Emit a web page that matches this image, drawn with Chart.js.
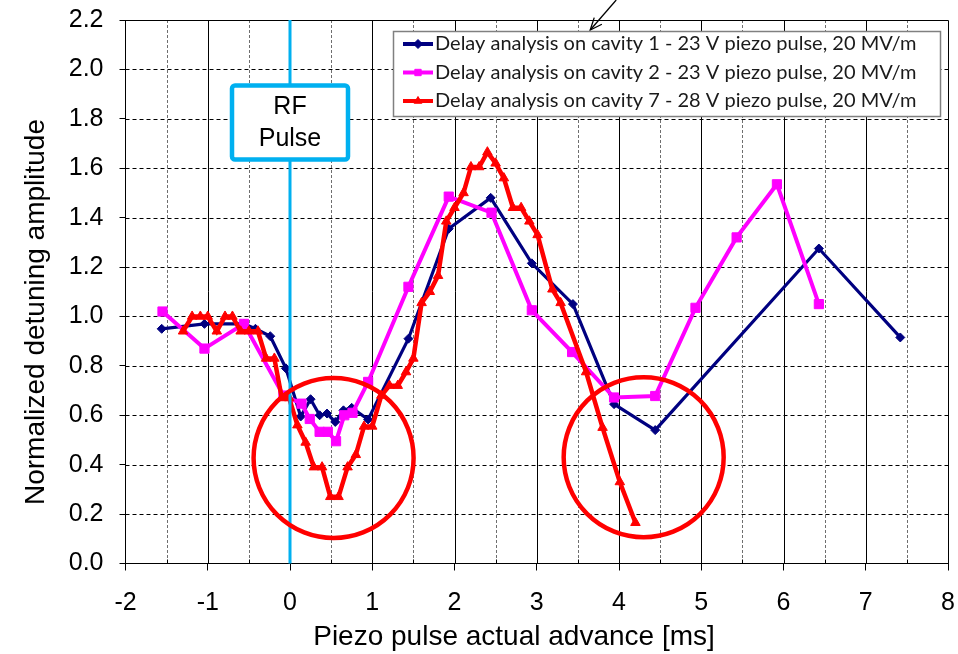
<!DOCTYPE html>
<html>
<head>
<meta charset="utf-8">
<script src="https://cdn.jsdelivr.net/npm/chart.js@4/dist/chart.umd.min.js"></script>
<style>
  html, body { margin: 0; padding: 0; background: #ffffff; }
  #wrap { width: 958px; height: 654px; }
</style>
</head>
<body>
<div id="wrap"><canvas id="c" width="958" height="654"></canvas></div>
<script>
// Cavity 1 – 23 V piezo pulse
const cav1X = [-1.56, -1.04, -0.56, -0.42, -0.24, -0.05, 0.13, 0.25, 0.36, 0.45, 0.55, 0.65, 0.75, 0.95,
               1.44, 1.93, 2.44, 2.94, 3.44, 3.94, 4.44, 6.43, 7.42];
const cav1Y = [0.95, 0.97, 0.97, 0.95, 0.92, 0.79, 0.595, 0.665, 0.60, 0.607, 0.573, 0.62, 0.63, 0.583,
               0.91, 1.355, 1.48, 1.215, 1.05, 0.645, 0.54, 1.275, 0.915];

// Cavity 2 – 23 V piezo pulse
const cav2X = [-1.55, -1.04, -0.56, -0.08, 0.14, 0.24, 0.36, 0.46, 0.56, 0.66, 0.76, 0.95,
               1.44, 1.93, 2.45, 2.94, 3.43, 3.94, 4.44, 4.93, 5.43, 5.92, 6.43];
const cav2Y = [1.02, 0.87, 0.97, 0.68, 0.647, 0.585, 0.533, 0.533, 0.495, 0.60, 0.61, 0.735,
               1.12, 1.485, 1.42, 1.025, 0.856, 0.672, 0.678, 1.035, 1.32, 1.535, 1.05];

// Cavity 7 – 28 V piezo pulse
const cav7X = [-1.30, -1.19, -1.09, -1.00, -0.89, -0.79, -0.70, -0.60, -0.50, -0.39,
               -0.29, -0.19, -0.10, -0.01, 0.09, 0.19, 0.29, 0.39, 0.49, 0.59,
               0.70, 0.80, 0.90, 1.00, 1.11, 1.21, 1.31, 1.41, 1.50, 1.60,
               1.70, 1.80, 1.90, 2.00, 2.11, 2.20, 2.30, 2.40, 2.50, 2.60,
               2.71, 2.81, 2.91, 3.01, 3.19, 3.29, 3.60, 3.80, 4.01, 4.20];
const cav7Y = [0.94, 1.00, 1.00, 1.00, 0.94, 1.00, 1.00, 0.94, 0.94, 0.94,
               0.83, 0.83, 0.67, 0.67, 0.56, 0.49, 0.39, 0.39, 0.27, 0.27,
               0.39, 0.44, 0.555, 0.555, 0.68, 0.72, 0.72, 0.775, 0.83, 1.055,
               1.10, 1.165, 1.385, 1.44, 1.50, 1.605, 1.605, 1.665, 1.62, 1.56,
               1.44, 1.44, 1.385, 1.33, 1.11, 1.055, 0.775, 0.55, 0.33, 0.165];

const seriesLabels = [
  'Delay analysis on cavity 1 - 23 V piezo pulse, 20 MV/m',
  'Delay analysis on cavity 2 - 23 V piezo pulse, 20 MV/m',
  'Delay analysis on cavity 7 - 28 V piezo pulse, 20 MV/m'
];
const seriesColors = ['#000080', '#ff00ff', '#ff0000'];
const seriesMarkers = ['rectRot', 'rect', 'triangle'];

const xRange = [-2, 8];
const yRange = [0, 2.2];
const xTitle = 'Piezo pulse actual advance [ms]';
const yTitle = 'Normalized detuning amplitude';
const rfLabel = ['RF', 'Pulse'];
const rfPulseAt = 0;            // ms
const rfBoxCenterY = 1.785;     // in detuning units
const circleCenters = [[0.53, 0.427], [4.30, 0.43]];

const toPoints = (xs, ys) => xs.map((x, i) => ({ x: x, y: ys[i] }));

// Plot-area grid: dashed horizontals, solid integer / dashed half verticals
const gridPlugin = {
  id: 'excelGrid',
  beforeDatasetsDraw(chart) {
    const { ctx, chartArea: a, scales: { x, y } } = chart;
    ctx.save();
    ctx.lineWidth = 1;
    ctx.strokeStyle = '#000';
    ctx.setLineDash([4, 3]);
    for (let k = 1; k < 11; k++) {
      const py = Math.round(y.getPixelForValue(k * 0.2)) + 0.5;
      ctx.beginPath(); ctx.moveTo(a.left, py); ctx.lineTo(a.right, py); ctx.stroke();
    }
    ctx.strokeStyle = '#6e6e6e';
    ctx.setLineDash([3, 2]);
    for (let v = xRange[0] + 0.5; v < xRange[1]; v += 1) {
      const px = Math.round(x.getPixelForValue(v)) + 0.5;
      ctx.beginPath(); ctx.moveTo(px, a.top); ctx.lineTo(px, a.bottom); ctx.stroke();
    }
    ctx.setLineDash([]);
    ctx.strokeStyle = '#000';
    for (let v = xRange[0] + 1; v < xRange[1]; v += 1) {
      const px = Math.round(x.getPixelForValue(v)) + 0.5;
      ctx.beginPath(); ctx.moveTo(px, a.top); ctx.lineTo(px, a.bottom); ctx.stroke();
    }
    // minor ticks at half steps, inside the axis
    for (let v = xRange[0] + 0.5; v < xRange[1]; v += 1) {
      const px = Math.round(x.getPixelForValue(v)) + 0.5;
      ctx.beginPath(); ctx.moveTo(px, a.bottom); ctx.lineTo(px, a.bottom - 4); ctx.stroke();
    }
    // top and right frame
    ctx.beginPath();
    ctx.moveTo(a.left, Math.round(a.top) + 0.5);
    ctx.lineTo(Math.round(a.right) + 0.5, Math.round(a.top) + 0.5);
    ctx.lineTo(Math.round(a.right) + 0.5, a.bottom);
    ctx.stroke();
    ctx.restore();
  }
};

// Annotations, axis titles and legend
const overlayPlugin = {
  id: 'overlay',
  afterDatasetsDraw(chart) {
    const { ctx, chartArea: a, scales: { x, y } } = chart;
    ctx.save();

    // RF pulse marker line
    const rx = x.getPixelForValue(rfPulseAt);
    ctx.strokeStyle = '#00b0f0';
    ctx.lineWidth = 3;
    ctx.beginPath(); ctx.moveTo(rx, a.top); ctx.lineTo(rx, a.bottom); ctx.stroke();

    // RF pulse label box
    const cy = y.getPixelForValue(rfBoxCenterY);
    const bw = 116, bh = 74;
    ctx.fillStyle = '#ffffff';
    ctx.lineWidth = 4.5;
    ctx.beginPath();
    if (ctx.roundRect) ctx.roundRect(rx - bw / 2, cy - bh / 2, bw, bh, 3);
    else ctx.rect(rx - bw / 2, cy - bh / 2, bw, bh);
    ctx.fill(); ctx.stroke();
    ctx.fillStyle = '#000';
    ctx.font = '25px "Liberation Sans", Arial, sans-serif';
    ctx.textAlign = 'center';
    ctx.textBaseline = 'middle';
    ctx.fillText(rfLabel[0], rx, cy - 15);
    ctx.fillText(rfLabel[1], rx, cy + 17);

    // highlight circles
    ctx.strokeStyle = '#ff0000';
    ctx.lineWidth = 4.5;
    circleCenters.forEach(([cxv, cyv]) => {
      ctx.beginPath();
      ctx.arc(x.getPixelForValue(cxv), y.getPixelForValue(cyv), 80, 0, Math.PI * 2);
      ctx.stroke();
    });

    // pointer arrow above the legend
    const tipX = x.getPixelForValue(3.65), tipY = a.top + 10;
    const tailX = tipX + 26, tailY = 0;
    ctx.strokeStyle = '#000';
    ctx.lineWidth = 1.3;
    ctx.beginPath(); ctx.moveTo(tailX, tailY); ctx.lineTo(tipX, tipY); ctx.stroke();
    const ang = Math.atan2(tipY - tailY, tipX - tailX);
    ctx.beginPath();
    ctx.moveTo(tipX - 13 * Math.cos(ang - 0.4), tipY - 13 * Math.sin(ang - 0.4));
    ctx.lineTo(tipX, tipY);
    ctx.lineTo(tipX - 13 * Math.cos(ang + 0.4), tipY - 13 * Math.sin(ang + 0.4));
    ctx.stroke();

    // legend
    const lx = 393, ly = 31, lw = 547, lh = 85;
    ctx.fillStyle = '#ffffff';
    ctx.fillRect(lx, ly, lw, lh);
    ctx.strokeStyle = '#808080';
    ctx.lineWidth = 1.5;
    ctx.strokeRect(lx + 0.5, ly + 0.5, lw, lh);
    chart.data.datasets.forEach((ds, i) => {
      const ry = ly + 13 + i * 28.5;
      ctx.strokeStyle = ds.borderColor;
      ctx.lineWidth = 4;
      ctx.beginPath(); ctx.moveTo(lx + 10, ry); ctx.lineTo(lx + 40, ry); ctx.stroke();
      ctx.fillStyle = ds.borderColor;
      ctx.lineWidth = 1;
      Chart.helpers.drawPoint(ctx, { pointStyle: ds.pointStyle, radius: 4.5, borderWidth: 1 }, lx + 25, ry);
    });
    ctx.fillStyle = '#1a1a1a';
    ctx.textAlign = 'left';
    ctx.textBaseline = 'middle';
    let fs = 20;
    ctx.font = fs + 'px Lato, "Open Sans", sans-serif';
    while (ctx.measureText(seriesLabels[0]).width > 492 && fs > 10) {
      fs -= 0.25;
      ctx.font = fs + 'px Lato, "Open Sans", sans-serif';
    }
    seriesLabels.forEach((t, i) => ctx.fillText(t, lx + 42, ly + 13 + i * 28.5));

    // axis titles
    ctx.fillStyle = '#000';
    ctx.font = '28px "Liberation Sans", Arial, sans-serif';
    ctx.textAlign = 'center';
    ctx.textBaseline = 'middle';
    ctx.fillText(xTitle, 514, 637);
    ctx.translate(36, 312);
    ctx.rotate(-Math.PI / 2);
    ctx.fillText(yTitle, 0, 0);
    ctx.restore();
  }
};

const tickFont = { family: '"Liberation Sans", Arial, sans-serif', size: 25 };

new Chart(document.getElementById('c'), {
  type: 'scatter',
  data: {
    datasets: [0, 1, 2].map(i => ({
      label: seriesLabels[i],
      data: toPoints([cav1X, cav2X, cav7X][i], [cav1Y, cav2Y, cav7Y][i]),
      showLine: true,
      tension: 0,
      borderColor: seriesColors[i],
      backgroundColor: seriesColors[i],
      pointBorderColor: seriesColors[i],
      pointBackgroundColor: seriesColors[i],
      borderWidth: [3.2, 4, 4.5][i],
      pointStyle: seriesMarkers[i],
      pointRadius: [4.5, 6.5, 5.5][i],
      pointBorderWidth: 1,
      order: 3 - i
    }))
  },
  options: {
    responsive: false,
    animation: false,
    devicePixelRatio: 1,
    layout: { padding: { left: 0, right: 10, top: 20, bottom: 0 } },
    plugins: { legend: { display: false }, tooltip: { enabled: false } },
    scales: {
      x: {
        type: 'linear',
        min: xRange[0], max: xRange[1],
        afterFit(s) { s.height = 90.5; s.paddingLeft = 0; s.paddingRight = 0; },
        ticks: { stepSize: 1, font: tickFont, color: '#000', padding: 18, maxRotation: 0 },
        grid: { drawOnChartArea: false, drawTicks: true, tickLength: 7, color: '#000' },
        border: { color: '#000', width: 1 }
      },
      y: {
        type: 'linear',
        min: yRange[0], max: yRange[1],
        afterFit(s) { s.width = 125.5; s.paddingTop = 0; s.paddingBottom = 0; },
        ticks: { stepSize: 0.2, font: tickFont, color: '#000', padding: 16,
                 callback: v => Number(v).toFixed(1) },
        grid: { drawOnChartArea: false, drawTicks: true, tickLength: 6, color: '#000' },
        border: { color: '#000', width: 1 }
      }
    }
  },
  plugins: [gridPlugin, overlayPlugin]
});
</script>
</body>
</html>
